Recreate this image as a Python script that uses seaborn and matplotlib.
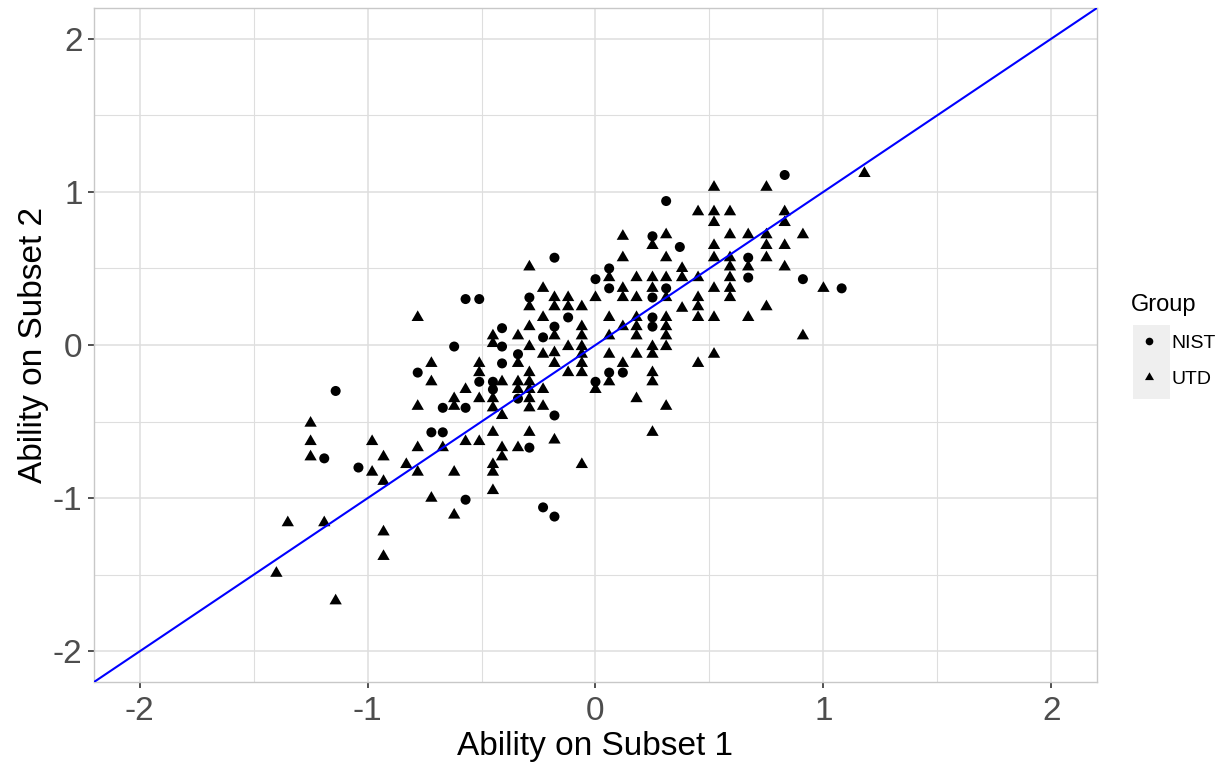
import numpy as np
import pandas as pd
import seaborn as sns
import matplotlib.pyplot as plt
from matplotlib.patches import Rectangle

# Ability estimates
nist_x = [-0.57, -0.51, 0.31, 0.25, 0.37, -0.18, 0.06, 0.00, 0.06, 0.31, -0.29, 0.25,
          -0.12, 0.25, -0.41, -0.18, 0.25, -0.23, -0.41, -0.34, -0.41, 0.06, 0.12, -0.51,
          -0.45, -0.45, -0.34, 0.00, -0.18, -0.29, -0.62, -0.78, -1.14, -0.67, -0.57, -0.72,
          -0.67, -1.19, -1.04, -0.57, -0.23, -0.18, 0.83, 0.67, 0.67, 0.91, 1.08]
nist_y = [0.30, 0.30, 0.94, 0.71, 0.64, 0.57, 0.50, 0.43, 0.37, 0.37, 0.31, 0.31,
          0.18, 0.18, 0.11, 0.12, 0.12, 0.05, -0.01, -0.06, -0.12, -0.18, -0.18, -0.24,
          -0.24, -0.29, -0.35, -0.24, -0.46, -0.67, -0.01, -0.18, -0.30, -0.41, -0.41, -0.57,
          -0.57, -0.74, -0.80, -1.01, -1.06, -1.12, 1.11, 0.57, 0.44, 0.43, 0.37]

utd_x = [0.12, 0.31, 0.25, 0.12, 0.31, -0.29, 0.06, 0.18, 0.25, 0.31, 0.38, -0.23,
         0.12, 0.25, -0.18, -0.12, 0.00, 0.12, 0.18, 0.31, -0.29, -0.18, -0.12, -0.06,
         0.38, -0.23, 0.06, 0.18, 0.31, -0.29, -0.06, 0.12, 0.18, 0.31, -0.18, -0.45,
         -0.45, -0.34, -0.06, 0.06, 0.18, 0.31, -0.29, -0.12, -0.06, 0.25, 0.31, -0.34,
         -0.23, -0.18, -0.18, -0.06, -0.06, -0.06, 0.06, 0.18, 0.25, -0.51, -0.51, 0.12,
         -0.12, 0.06, 0.25, 0.25, -0.29, -0.29, -0.29, -0.29, -0.29, -0.45, -0.45, -0.41,
         -0.34, -0.34, 0.00, -0.23, -0.51, 0.18, -0.23, 0.31, -0.41, -0.45, -0.29, 0.25,
         -0.51, -0.57, -0.18, -0.41, -0.34, -0.78, -0.72, -0.72, -0.57, -0.62, -0.78, -0.62,
         -1.25, -1.25, -0.98, -0.78, -0.67, -1.25, -0.93, -0.98, -0.83, -0.78, -0.93, -0.62,
         -0.72, -0.62, -1.35, -1.19, -0.93, -0.93, -1.40, -1.14, -0.41, -0.45, -0.45, -0.06,
         -0.45, 1.18, 0.52, 0.75, 0.45, 0.52, 0.59, 0.83, 0.83, 0.52, 0.59, 0.67,
         0.75, 0.91, 0.52, 0.75, 0.83, 0.52, 0.59, 0.75, 0.59, 0.67, 0.83, 0.45,
         0.59, 0.52, 0.59, 1.00, 0.45, 0.59, 0.45, 0.75, 0.45, 0.52, 0.67, 0.91,
         0.52, 0.45, 0.38]
utd_y = [0.71, 0.72, 0.65, 0.57, 0.57, 0.51, 0.44, 0.44, 0.44, 0.44, 0.50, 0.37,
         0.37, 0.37, 0.31, 0.31, 0.31, 0.31, 0.31, 0.31, 0.25, 0.25, 0.25, 0.25,
         0.24, 0.18, 0.18, 0.18, 0.18, 0.12, 0.12, 0.12, 0.12, 0.12, 0.06, 0.06,
         0.01, 0.06, 0.06, 0.06, 0.06, 0.06, -0.01, -0.01, -0.01, -0.01, -0.01, -0.12,
         -0.06, -0.05, -0.12, -0.06, -0.12, -0.18, -0.06, -0.06, -0.06, -0.12, -0.18, -0.12,
         -0.18, -0.24, -0.18, -0.24, -0.18, -0.24, -0.29, -0.35, -0.41, -0.35, -0.41, -0.24,
         -0.24, -0.29, -0.29, -0.29, -0.35, -0.35, -0.40, -0.40, -0.46, -0.57, -0.57, -0.57,
         -0.63, -0.63, -0.62, -0.67, -0.67, 0.18, -0.12, -0.24, -0.29, -0.35, -0.40, -0.40,
         -0.51, -0.63, -0.63, -0.67, -0.67, -0.73, -0.73, -0.83, -0.78, -0.83, -0.89, -0.83,
         -1.00, -1.11, -1.16, -1.16, -1.22, -1.38, -1.49, -1.67, -0.73, -0.78, -0.83, -0.78,
         -0.95, 1.12, 1.03, 1.03, 0.87, 0.87, 0.87, 0.87, 0.80, 0.80, 0.72, 0.72,
         0.72, 0.72, 0.65, 0.65, 0.65, 0.57, 0.57, 0.57, 0.51, 0.51, 0.51, 0.44,
         0.44, 0.37, 0.37, 0.37, 0.31, 0.31, 0.25, 0.25, 0.18, 0.18, 0.18, 0.06,
         -0.06, -0.12, 0.44]

groups = ["NIST", "UTD"]

df = pd.DataFrame({
    "x": nist_x + utd_x,
    "y": nist_y + utd_y,
    "Group": [groups[0]] * len(nist_x) + [groups[1]] * len(utd_x),
})

plt.rcParams["font.family"] = ["Liberation Sans", "DejaVu Sans"]
plt.rcParams["axes.unicode_minus"] = False

# equilateral triangle like R's pch 17
tri = [(0, 1), (-0.866, -0.5), (0.866, -0.5)]

fig = plt.figure(figsize=(12.31, 7.65), dpi=100)
ax = fig.add_axes([0.0764, 0.1085, 0.8147, 0.881])

sns.scatterplot(data=df, x="x", y="y", style="Group", size="Group",
                markers={"NIST": "o", "UTD": tri},
                sizes={"NIST": 52, "UTD": 105}, color="black",
                linewidth=0, ax=ax, zorder=3)
ax.axline((0, 0), slope=1, color="#0000FF", linewidth=1.5, zorder=4)

ax.set_xlim(-2.2, 2.2)
ax.set_ylim(-2.2, 2.2)
ax.set_xticks([-2, -1, 0, 1, 2])
ax.set_yticks([-2, -1, 0, 1, 2])
ax.set_xticks([-1.5, -0.5, 0.5, 1.5], minor=True)
ax.set_yticks([-1.5, -0.5, 0.5, 1.5], minor=True)
ax.grid(which="major", color="#DEDEDE", linewidth=1.1)
ax.grid(which="minor", color="#DEDEDE", linewidth=0.8)
ax.set_axisbelow(True)
ax.tick_params(which="major", length=4.3, width=1.2, color="#333333",
               labelsize=24, labelcolor="#4D4D4D")
ax.tick_params(axis="x", which="major", pad=5.5)
ax.tick_params(axis="y", which="major", pad=4)
ax.tick_params(which="minor", length=0)
for sp in ax.spines.values():
    sp.set_color("#C8C8C8")
    sp.set_linewidth(1.0)

ax.set_xlabel("Ability on Subset 1", fontsize=24, labelpad=3.5)
ax.set_ylabel("Ability on Subset 2", fontsize=24, labelpad=3)

sns.move_legend(ax, "upper left", bbox_to_anchor=(1131 / 1231, 1 - 294 / 765),
                bbox_transform=fig.transFigure, frameon=False,
                title="Group", fontsize=14, title_fontsize=17,
                handlelength=1.9, handletextpad=0.2, labelspacing=0.95,
                borderpad=0, borderaxespad=0)
leg = ax.get_legend()
leg._legend_box.align = "left"
for h in leg.legend_handles:
    h.set_markersize(7.5 if h.get_label() == "UTD" else 5.5)

# grey key background like ggplot legend keys
fig.patches.append(Rectangle((1133 / 1231, (765 - 399) / 765), 37 / 1231, 74 / 765,
                             transform=fig.transFigure, facecolor="#EFEFEF",
                             edgecolor="none", zorder=-1))

fig.savefig("out.png", dpi=100)
